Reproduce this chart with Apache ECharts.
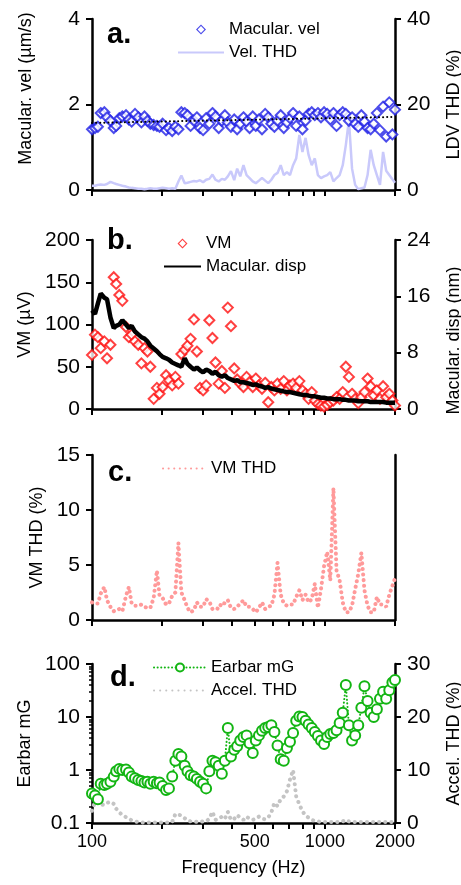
<!DOCTYPE html>
<html>
<head>
<meta charset="utf-8">
<script src="https://cdn.jsdelivr.net/npm/echarts@6/dist/echarts.min.js"></script>
<style>
html,body{margin:0;padding:0;background:#fff}
#chart{width:461px;height:885px}
</style>
</head>
<body>
<div id="chart"></div>
<script>
// shared frequency axis (Hz)
var freq = [100,103,106,109,113,116,120,124,127,131,
	135,140,144,148,153,158,163,168,173,178,
	184,190,195,201,208,214,221,228,235,242,
	250,257,265,274,282,291,300,309,319,329,
	339,350,361,372,383,395,408,420,433,447,
	461,475,490,505,521,537,554,571,589,607,
	626,646,666,687,708,730,753,777,801,826,
	851,878,905,933,962,992,1023,1055,1088,1122,
	1157,1193,1230,1268,1308,1349,1391,1434,1479,1525,
	1572,1621,1672,1724,1778,1833,1890,1949,2000];

// a. macular velocity (um/s) and LDV THD (%)
var macVel = [1.42,1.45,1.48,1.80,1.82,1.70,1.62,1.45,1.50,1.68,
	1.72,1.75,1.65,1.60,1.78,1.70,1.58,1.72,1.62,1.55,
	1.52,1.50,1.48,1.55,1.40,1.45,1.38,1.48,1.42,1.82,
	1.80,1.75,1.50,1.62,1.70,1.45,1.40,1.68,1.55,1.80,
	1.72,1.45,1.62,1.75,1.58,1.48,1.65,1.42,1.55,1.70,
	1.60,1.45,1.72,1.50,1.65,1.42,1.78,1.70,1.55,1.48,
	1.62,1.75,1.45,1.58,1.68,1.80,1.50,1.72,1.42,1.62,
	1.78,1.82,1.75,1.80,1.70,1.82,1.78,1.65,1.80,1.50,
	1.75,1.82,1.78,1.62,1.70,1.55,1.48,1.75,1.60,1.45,
	1.42,1.55,1.80,1.40,1.95,1.25,2.05,1.30,1.88];
var velThd = [1.0,1.0,1.2,1.3,1.2,1.4,1.9,1.6,1.4,1.2,
	1.0,0.8,0.6,0.5,0.4,0.3,0.3,0.2,0.3,0.4,
	0.3,0.3,0.4,0.5,0.4,0.3,0.4,0.3,2.0,3.4,
	1.6,1.7,1.9,2.1,2.0,2.3,1.8,2.4,2.6,3.6,
	2.4,2.0,2.6,2.4,3.2,4.4,2.3,5.0,3.2,5.8,
	3.5,2.8,2.0,1.6,2.2,2.8,2.2,1.6,2.4,3.5,
	4.0,5.8,3.5,4.2,3.5,5.8,7.4,12.9,8.9,12.2,
	8.2,5.8,7.4,3.5,2.8,3.2,3.5,4.2,2.0,2.8,
	3.5,5.8,10.5,16.4,5.0,1.2,0.2,0.4,0.6,3.5,
	9.4,5.8,3.5,1.2,8.9,4.5,3.5,2.5,1.7];
var trendFreq = [100, 2000];
var trendVel = [1.57, 1.71];

// b. VM (uV) and macular displacement (nm)
var vm = [64,88,85,72,80,60,76,156,148,135,
	128,97,85,88,80,76,54,72,68,50,
	12,25,18,26,40,34,28,38,30,65,
	70,75,83,106,68,25,22,28,105,84,
	55,30,45,25,120,98,48,35,30,26,
	38,32,26,36,28,24,31,8,26,22,
	30,24,33,22,28,30,25,33,22,18,
	12,20,10,6,4,3,5,8,10,14,
	12,20,50,38,18,12,7,14,20,36,
	27,16,22,12,27,14,18,10,4];
var macDisp = [14.0,13.5,15.0,16.4,15.8,15.6,13.0,11.5,11.8,12.0,
	12.6,12.0,11.5,11.8,11.0,10.6,10.2,10.0,9.6,9.0,
	8.6,8.2,7.8,7.4,7.2,7.0,6.6,6.4,6.2,6.0,
	7.2,6.4,6.0,5.6,5.9,5.5,5.2,5.6,5.4,5.0,
	5.3,4.8,4.6,4.8,4.4,4.2,4.0,4.1,3.8,3.8,
	3.7,3.6,3.4,3.5,3.3,3.2,3.0,3.1,2.9,2.8,
	2.7,2.6,2.5,2.4,2.4,2.3,2.2,2.1,2.0,2.0,
	1.9,1.8,1.8,1.7,1.6,1.6,1.5,1.5,1.4,1.4,
	1.4,1.3,1.3,1.2,1.2,1.2,1.1,1.1,1.1,1.1,
	1.0,1.0,1.0,1.0,1.0,0.9,0.9,0.9,0.9];

// c. VM THD (%)
var vmThd = [1.6,1.5,1.5,2.4,3.0,1.8,1.2,0.8,0.9,1.0,
	0.8,2.2,3.0,1.5,1.3,1.3,1.4,1.2,1.1,1.1,
	2.0,4.5,2.2,2.0,1.4,1.5,2.2,2.5,7.0,2.5,
	1.8,1.1,0.7,0.9,1.6,1.2,1.2,1.9,1.7,1.0,
	1.1,1.0,1.6,1.5,1.8,1.1,1.0,1.2,1.5,1.8,
	1.2,1.2,1.0,0.7,1.1,1.6,1.0,1.2,1.3,2.3,
	5.2,2.3,1.5,1.3,1.4,1.4,2.1,2.7,1.8,2.3,
	1.6,1.9,3.3,1.1,2.8,4.9,6.2,3.6,12.0,4.5,
	3.6,1.6,0.7,0.7,1.3,2.8,4.2,6.1,2.7,1.3,
	0.7,0.7,2.1,1.4,1.4,1.2,2.3,3.1,3.8];

// d. earbar acceleration (mG) and accelerometer THD (%)
var earbar = [0.36,0.33,0.28,0.55,0.52,0.55,0.6,0.75,0.95,1.05,
	1.0,1.02,0.9,0.75,0.7,0.65,0.62,0.58,0.6,0.55,
	0.6,0.56,0.58,0.5,0.42,0.45,0.75,1.5,2.0,1.8,
	1.2,0.95,0.8,0.75,0.68,0.6,0.55,0.45,0.95,1.5,
	1.4,1.2,0.85,1.5,6.2,1.8,2.4,2.8,3.6,4.2,
	4.5,3.2,2.1,3.6,4.5,5.5,6.2,6.5,7.0,5.2,
	2.9,1.6,1.5,2.6,3.4,5.0,8.5,10.2,10.0,8.5,
	7.2,6.2,5.2,4.4,3.6,3.1,4.2,4.8,5.0,5.6,
	7.7,12.0,40,7.0,3.6,4.5,7.0,15,38,20,
	12,10,14,22,30,22,32,45,50];
var accelThd = [2.3,4.0,4.0,3.5,3.4,3.8,4.0,3.6,2.7,2.0,
	1.5,1.1,0.8,0.5,0.3,0.2,0.1,0.1,0.1,0.1,
	0.1,0.1,0.1,0.1,0.1,0.1,0.2,1.7,1.6,1.4,
	0.9,0.5,0.3,0.3,0.2,0.2,0.3,0.3,0.8,2.1,
	0.6,0.8,1.2,0.8,2.1,0.6,0.8,1.5,1.0,0.6,
	1.2,0.8,0.6,0.8,1.2,0.8,0.7,1.0,2.0,3.8,
	3.2,4.5,5.0,6.0,8.2,10.0,5.0,3.5,2.2,1.4,
	1.0,0.6,0.4,0.3,0.2,0.2,0.2,0.2,0.2,0.2,
	0.2,0.3,0.6,0.3,0.2,0.2,0.2,0.2,0.2,0.2,
	0.2,0.2,0.2,0.2,0.2,0.2,0.2,0.2,0.2];

// ticks / labels
var xTicks = [100,200,300,400,500,600,700,800,900,1000,2000];
var xLabels = [100,500,1000,2000];
var mgMajor = [0.1,1,10,100];
var mgMinor = [0.2,0.3,0.4,0.5,0.6,0.7,0.8,0.9,2,3,4,5,6,7,8,9,20,30,40,50,60,70,80,90];

var FONT = 'Liberation Sans, Arial, sans-serif';
var DIAMOND = 'path://M5,0L10,5L5,10L0,5Z M5,1.6L1.6,5L5,8.4L8.4,5Z';
var TICK = '#000';

function pairs(xs, ys){
	return xs.map(function(x, i){ return [x, ys[i]]; });
}

var panels = [{top:19, h:171}, {top:240, h:169}, {top:455, h:165}, {top:664, h:159}];

var grids = panels.map(function(p){
	return {left:92, width:303, top:p.top, height:p.h, outerBoundsMode:'none'};
});

var xAxes = panels.map(function(p, i){
	var last = (i == 3);
	return {
		type:'log', logBase:10, gridIndex:i, min:100, max:2000,
		axisLine:{lineStyle:{color:'#000', width:2.5}},
		axisTick:{show:true, length:6, customValues:xTicks, lineStyle:{color:TICK, width:2}},
		axisLabel:{show:last, customValues:xLabels, color:'#000', fontSize:18, fontFamily:FONT, margin:10,
			formatter:function(v){ return String(v); }},
		splitLine:{show:false},
		name: last ? 'Frequency (Hz)' : '',
		nameLocation:'middle', nameGap:36,
		nameTextStyle:{color:'#000', fontSize:18, fontFamily:FONT}
	};
});

function yAx(gi, pos, min, max, interval, name, gap, extra){
	var a = {
		type:'value', gridIndex:gi, position:pos, min:min, max:max, interval:interval,
		axisLine:{show:true, lineStyle:{color:'#000', width:2.5}},
		axisTick:{show:true, length:6, lineStyle:{color:TICK, width:2}},
		axisLabel:{color:'#000', fontSize:21, fontFamily:FONT, margin:12},
		splitLine:{show:false},
		name:name, nameLocation:'middle', nameRotate:90, nameGap:gap,
		nameTextStyle:{color:'#000', fontSize:18, fontFamily:FONT}
	};
	for (var k in extra) a[k] = extra[k];
	return a;
}

var yAxes = [
	yAx(0, 'left', 0, 4, 2, 'Macular. vel (µm/s)', 57, {nameTextStyle:{color:'#000', fontSize:18, fontFamily:FONT, padding:[0,0,0,32]}}),
	yAx(0, 'right', 0, 40, 20, 'LDV THD (%)', 50, {}),
	yAx(1, 'left', 0, 200, 50, 'VM (µV)', 55, {}),
	yAx(1, 'right', 0, 24, 8, 'Macular. disp (nm)', 50, {nameTextStyle:{color:'#000', fontSize:18, fontFamily:FONT, padding:[0,32,0,0]}}),
	yAx(2, 'left', 0, 15, 5, 'VM THD (%)', 44, {}),
	yAx(2, 'right', 0, 15, 5, '', 0, {axisTick:{show:false}, axisLabel:{show:false}}),
	yAx(3, 'left', 0.1, 100, null, 'Earbar mG', 47, {type:'log', logBase:10, interval:undefined,
		axisTick:{show:true, length:6, customValues:mgMajor, lineStyle:{color:TICK, width:2}}}),
	yAx(3, 'right', 0, 30, 10, 'Accel. THD (%)', 50, {}),
	yAx(3, 'left', 0.1, 100, null, '', 0, {type:'log', logBase:10, interval:undefined,
		axisLine:{show:false}, axisLabel:{show:false},
		axisTick:{show:true, length:3, customValues:mgMinor, lineStyle:{color:TICK, width:1.5}}})
];

var series = [
	{name:'Vel. THD', type:'line', xAxisIndex:0, yAxisIndex:1, data:pairs(freq, velThd),
		symbol:'none', lineStyle:{color:'#c9c9fb', width:2.5}, itemStyle:{color:'#c9c9fb'}, z:1},
	{name:'trend', type:'line', xAxisIndex:0, yAxisIndex:0, data:pairs(trendFreq, trendVel),
		symbol:'none', lineStyle:{color:'#000', width:2, type:[0.1,4], cap:'round'}, z:3},
	{name:'Macular. vel', type:'scatter', xAxisIndex:0, yAxisIndex:0, data:pairs(freq, macVel),
		symbol:'emptyDiamond', symbolSize:10, itemStyle:{color:'#1f1fe6', borderWidth:1.5}, z:2},

	{name:'VM', type:'scatter', xAxisIndex:1, yAxisIndex:2, data:pairs(freq, vm),
		symbol:'emptyDiamond', symbolSize:10, itemStyle:{color:'#ff1010', borderWidth:1.5}, z:2},
	{name:'Macular. disp', type:'line', xAxisIndex:1, yAxisIndex:3, data:pairs(freq, macDisp),
		symbol:'none', lineStyle:{color:'#000', width:4.5}, itemStyle:{color:'#000'}, z:3},

	{name:'VM THD', type:'line', xAxisIndex:2, yAxisIndex:4, data:pairs(freq, vmThd),
		symbol:'none', lineStyle:{color:'#ff9a9a', width:4, type:[0.1,5.5], cap:'round'}, itemStyle:{color:'#ff9a9a'}},

	{name:'Accel. THD', type:'line', xAxisIndex:3, yAxisIndex:7, data:pairs(freq, accelThd),
		symbol:'none', lineStyle:{color:'#c4c4c4', width:4, type:[0.1,6], cap:'round'}, itemStyle:{color:'#c4c4c4'}, z:1},
	{name:'Earbar mG', type:'line', xAxisIndex:3, yAxisIndex:6, data:pairs(freq, earbar),
		symbol:'emptyCircle', symbolSize:10, showAllSymbol:true,
		lineStyle:{color:'#13b513', width:2, type:[0.1,3.5], cap:'round'},
		itemStyle:{color:'#13b513', borderWidth:1.6}, z:2}
];

var noDot = {opacity:0};

function leg(items, left, top, w){
	return {
		data:items, left:left, top:top, orient:'vertical', itemWidth:w, itemHeight:10, itemGap:6,
		symbolKeepAspect:true,
		textStyle:{color:'#000', fontSize:17, fontFamily:FONT}, selectedMode:false
	};
}

var legends = [
	leg([{name:'Macular. vel', icon:DIAMOND, itemStyle:{color:'#1f1fe6', borderWidth:0}},
		{name:'Vel. THD', itemStyle:noDot}], 172, 16, 46),
	leg([{name:'VM', icon:DIAMOND, itemStyle:{color:'#ff1010', borderWidth:0}},
		{name:'Macular. disp', itemStyle:noDot}], 158, 230, 37),
	leg([{name:'VM THD', itemStyle:noDot}], 157, 455, 43),
	leg(['Earbar mG', {name:'Accel. THD', itemStyle:noDot}], 148, 654, 52)
];

function ttl(t, left, top){
	return {text:t, left:left, top:top, textStyle:{color:'#000', fontSize:29, fontWeight:'bold', fontFamily:FONT}, padding:0};
}

var chart = echarts.init(document.getElementById('chart'), null, {renderer:'canvas'});
chart.setOption({
	backgroundColor:'#fff',
	animation:false,
	title:[ttl('a.', 107, 20), ttl('b.', 107, 226), ttl('c.', 108, 458), ttl('d.', 110, 663)],
	legend:legends,
	grid:grids,
	xAxis:xAxes,
	yAxis:yAxes,
	series:series
});
</script>
</body>
</html>
